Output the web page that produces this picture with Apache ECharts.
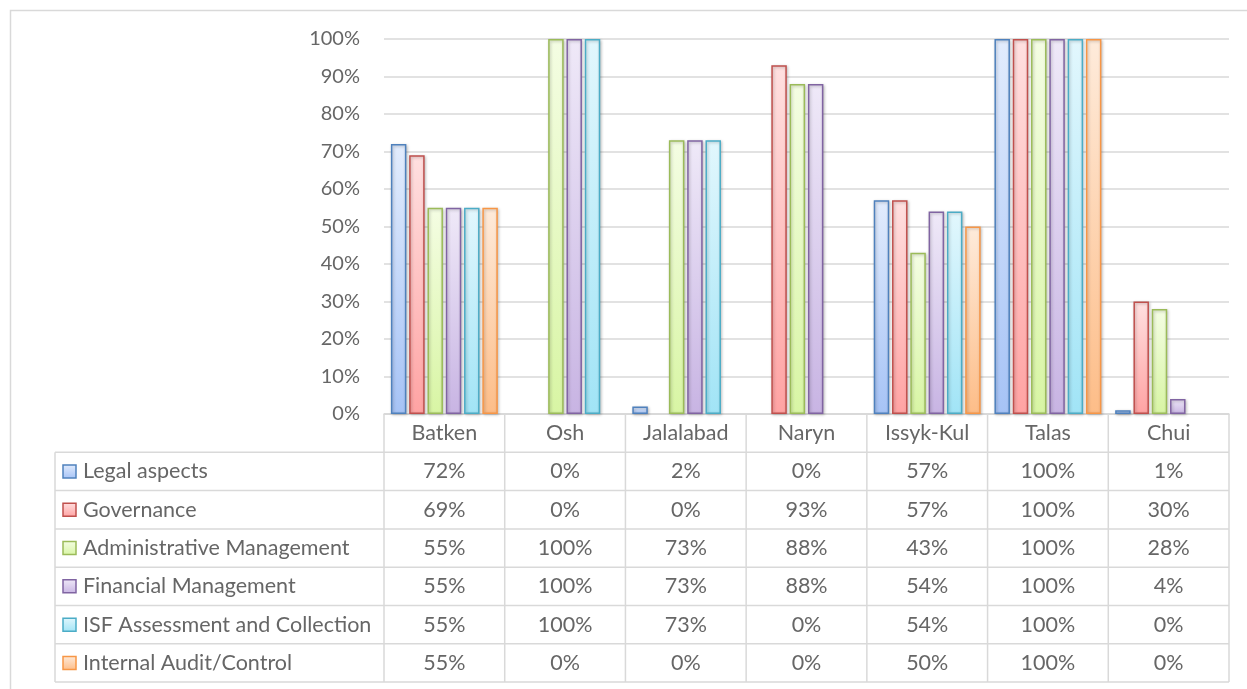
<!DOCTYPE html>
<html>
<head>
<meta charset="utf-8">
<script src="https://cdn.jsdelivr.net/npm/echarts@6/dist/echarts.min.js"></script>
<style>html,body{margin:0;padding:0;background:#fff;}#c{width:1247px;height:689px;}</style>
</head>
<body>
<div id="c"></div>
<script>
const categories = ['Batken', 'Osh', 'Jalalabad', 'Naryn', 'Issyk-Kul', 'Talas', 'Chui'];
const seriesNames = ['Legal aspects', 'Governance', 'Administrative Management', 'Financial Management', 'ISF Assessment and Collection', 'Internal Audit/Control'];
const legalAspects = [72, 0, 2, 0, 57, 100, 1];
const governance = [69, 0, 0, 93, 57, 100, 30];
const adminManagement = [55, 100, 73, 88, 43, 100, 28];
const financialManagement = [55, 100, 73, 88, 54, 100, 4];
const isfAssessment = [55, 100, 73, 0, 54, 100, 0];
const internalAudit = [55, 0, 0, 0, 50, 100, 0];
const yTicks = [0, 10, 20, 30, 40, 50, 60, 70, 80, 90, 100];

const seriesValues = [legalAspects, governance, adminManagement, financialManagement, isfAssessment, internalAudit];
const borderColors = ['#4F81BD', '#C0504D', '#9BBB59', '#8064A2', '#4BACC6', '#F79646'];
const topColors = ['#e2ecfd', '#ffe0e0', '#f4fde3', '#efe9f8', '#e2f7fd', '#feebdb'];
const botColors = ['#a6c3f6', '#ffa3a3', '#d8f5a4', '#c8b4e3', '#a1e4f6', '#fdbd88'];

const FONT = 'Lato';
const TXT = '#666666';
const LINE = '#d9d9d9';
const TFS = 21.5;
const W = 1247, H = 689;
const G = { left: 384, right: 18, top: 39, bottom: 275 };
const plotW = W - G.left - G.right;
const catW = plotW / categories.length;
const tableTop = H - G.bottom;
const rowH = 38.3;
const tableLeft = 55;

function grad(i) {
  return new echarts.graphic.LinearGradient(0, 0, 0, 1, [
    { offset: 0, color: topColors[i] },
    { offset: 1, color: botColors[i] }
  ]);
}

const chart = echarts.init(document.getElementById('c'), null, { renderer: 'canvas' });

const graphics = [];
graphics.push({ type: 'rect', silent: true, shape: { x: 10.5, y: 10.5, width: 1260, height: 720 }, style: { fill: 'none', stroke: LINE, lineWidth: 1.5 } });
for (let r = 0; r <= categories.length; r++) {
  const y = tableTop + r * rowH;
  const x1 = r === 0 ? G.left : tableLeft;
  graphics.push({ type: 'line', silent: true, shape: { x1: x1, y1: y, x2: G.left + plotW, y2: y }, style: { stroke: LINE, lineWidth: 1.5 } });
}
graphics.push({ type: 'line', silent: true, shape: { x1: tableLeft, y1: tableTop + rowH, x2: tableLeft, y2: tableTop + 7 * rowH }, style: { stroke: LINE, lineWidth: 1.5 } });
for (let i = 0; i <= categories.length; i++) {
  const x = G.left + i * catW;
  graphics.push({ type: 'line', silent: true, shape: { x1: x, y1: tableTop, x2: x, y2: tableTop + 7 * rowH }, style: { stroke: LINE, lineWidth: 1.5 } });
}
categories.forEach((c, i) => {
  graphics.push({ type: 'text', silent: true, x: G.left + (i + 0.5) * catW, y: tableTop + rowH / 2,
    style: { text: c, fill: TXT, font: TFS + 'px ' + FONT, align: 'center', verticalAlign: 'middle' } });
});
seriesNames.forEach((name, s) => {
  const cy = tableTop + (s + 1.5) * rowH;
  graphics.push({ type: 'rect', silent: true, shape: { x: 63, y: cy - 6.5, width: 13, height: 13 },
    style: { fill: grad(s), stroke: borderColors[s], lineWidth: 1.5 } });
  graphics.push({ type: 'text', silent: true, x: 83, y: cy,
    style: { text: name, fill: TXT, font: TFS + 'px ' + FONT, align: 'left', verticalAlign: 'middle' } });
  seriesValues[s].forEach((v, i) => {
    graphics.push({ type: 'text', silent: true, x: G.left + (i + 0.5) * catW, y: cy,
      style: { text: v + '%', fill: TXT, font: TFS + 'px ' + FONT, align: 'center', verticalAlign: 'middle' } });
  });
});

const option = {
  animation: false,
  backgroundColor: '#fff',
  grid: { left: G.left, right: G.right, top: G.top, bottom: G.bottom, containLabel: false },
  xAxis: {
    type: 'category', data: categories,
    axisLine: { show: true, lineStyle: { color: LINE, width: 1.5 } },
    axisTick: { show: false }, axisLabel: { show: false }
  },
  yAxis: {
    type: 'value', min: yTicks[0], max: yTicks[yTicks.length - 1], interval: 10,
    axisLine: { show: false }, axisTick: { show: false },
    axisLabel: { formatter: '{value}%', color: TXT, fontSize: 20, fontFamily: FONT, margin: 24 },
    splitLine: { lineStyle: { color: LINE, width: 1.5 } }
  },
  series: seriesNames.map((name, s) => ({
    name: name, type: 'bar', barWidth: 15.5, barGap: '18%',
    data: seriesValues[s].map(v => v === 0 ? null : v),
    itemStyle: { color: grad(s), borderColor: borderColors[s], borderWidth: 1.5,
      shadowBlur: 3, shadowColor: 'rgba(0,0,0,0.25)', shadowOffsetX: 1, shadowOffsetY: 1 }
  })),
  graphic: graphics
};
chart.setOption(option);
</script>
</body>
</html>
